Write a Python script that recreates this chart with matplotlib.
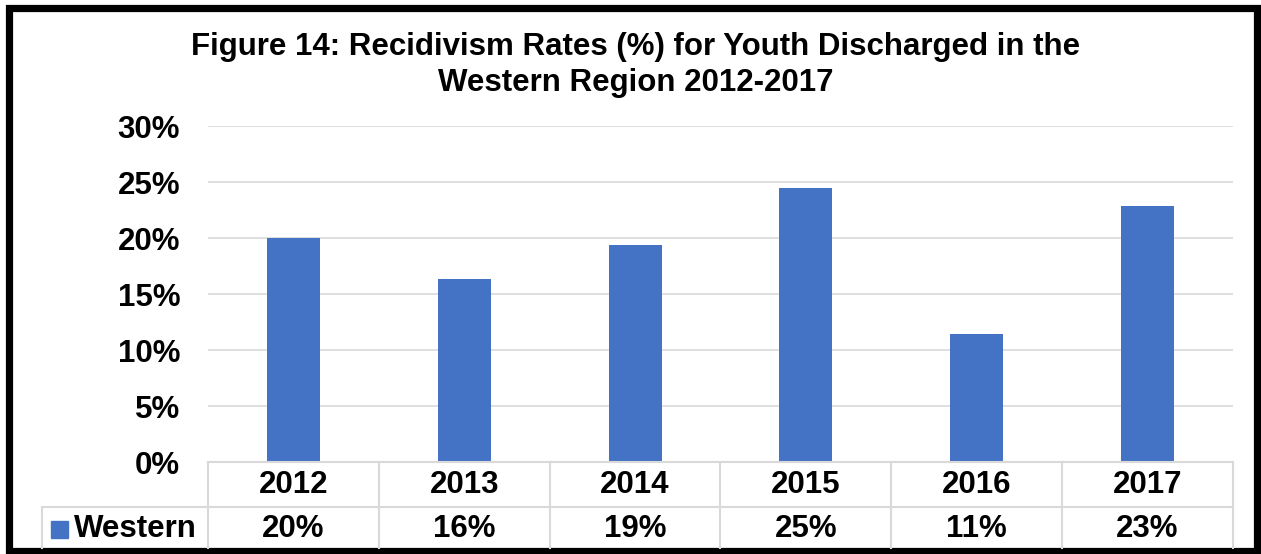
import matplotlib.pyplot as plt
from matplotlib.lines import Line2D
from matplotlib.patches import Rectangle
from matplotlib.transforms import blended_transform_factory

years = ['2012', '2013', '2014', '2015', '2016', '2017']
western = [20.0, 16.3, 19.4, 24.5, 11.4, 22.9]
western_labels = ['20%', '16%', '19%', '25%', '11%', '23%']
series_name = 'Western'
yticks = [0, 5, 10, 15, 20, 25, 30]

W, H = 1261, 554
blue = '#4472C4'
grid = '#D9D9D9'
plt.rcParams['font.family'] = ['Liberation Sans', 'DejaVu Sans']
plt.rcParams['font.weight'] = 'bold'
fs = 22.5

fig = plt.figure(figsize=(W / 100, H / 100), dpi=100)

def fx(px):
    return px / W

def fy(py):
    return 1 - py / H

ax = fig.add_axes([fx(208), fy(462), fx(1233) - fx(208), fy(126) - fy(462)])
x = list(range(len(years)))
ax.bar(x, western, width=0.31, color=blue, zorder=3)
ax.set_xlim(-0.5, len(years) - 0.5)
ax.set_ylim(0, 30)
ax.set_yticks(yticks)
ax.set_yticklabels([f'{t}%' for t in yticks], fontsize=fs, fontweight='bold')
ax.tick_params(axis='y', length=0, pad=20)
ax.set_xticks([])
ax.grid(axis='y', color=grid, lw=1.2, zorder=0)
for s in ax.spines.values():
    s.set_visible(False)

fig.text(fx(636), fy(65), 'Figure 14: Recidivism Rates (%) for Youth Discharged in the\nWestern Region 2012-2017',
         ha='center', va='center', fontsize=fs, fontweight='bold', linespacing=1.25)

# data table under the chart
tr = blended_transform_factory(ax.transData, fig.transFigure)
def tline(xs, ys, trans):
    fig.add_artist(Line2D(xs, ys, transform=trans, color=grid, lw=1.5, clip_on=False))

for i in range(len(years) + 1):
    tline([i - 0.5, i - 0.5], [fy(462), fy(548)], tr)
tline([-0.5, len(years) - 0.5], [fy(462), fy(462)], tr)
tline([fx(42), fx(208)], [fy(507), fy(507)], fig.transFigure)
tline([-0.5, len(years) - 0.5], [fy(507), fy(507)], tr)
tline([fx(42), fx(42)], [fy(507), fy(548)], fig.transFigure)

for i, (yr, lab) in enumerate(zip(years, western_labels)):
    fig.text(i, fy(485), yr, transform=tr, ha='center', va='center', fontsize=fs, fontweight='bold')
    fig.text(i, fy(529), lab, transform=tr, ha='center', va='center', fontsize=fs, fontweight='bold')

fig.add_artist(Rectangle((fx(51), fy(538)), fx(17), 17 / H, transform=fig.transFigure, color=blue))
fig.text(fx(74), fy(529), series_name, ha='left', va='center', fontsize=fs, fontweight='bold')

# outer frame
fig.add_artist(Rectangle((fx(9), fy(551)), fx(1248), (551 - 7.5) / H, transform=fig.transFigure,
                         fill=False, ec='black', lw=5.2))

fig.savefig('out.png', dpi=100)
